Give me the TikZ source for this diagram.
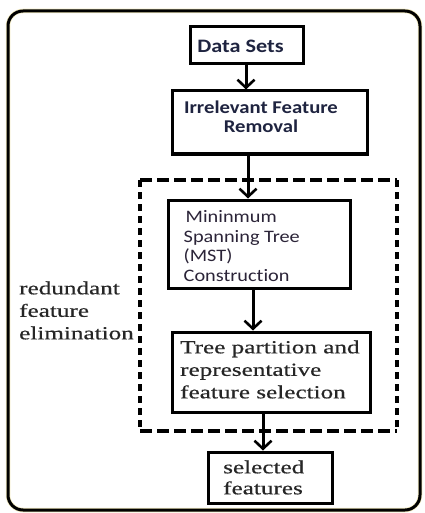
\documentclass[tikz,border=0pt]{standalone}
\usepackage{fontspec}
\setmainfont{Liberation Serif}
\newfontfamily\serifw[FakeStretch=1.36,FakeBold=0.5]{Liberation Serif}
\newfontfamily\carlds[FakeStretch=1.17]{Carlito}
\newfontfamily\carlb[FakeStretch=1.15]{Carlito}
\newfontfamily\carlw[FakeStretch=1.16,Ligatures=NoCommon]{Carlito}
\usetikzlibrary{arrows.meta}
\definecolor{navy}{HTML}{1F2440}
\definecolor{mstc}{HTML}{2B2438}
\definecolor{txtgray}{HTML}{262626}
\definecolor{halo}{HTML}{F3EBC0}
\tikzset{
  box/.style={draw=black, line width=3pt, fill=white, inner sep=0pt},
  txt/.style={inner sep=0pt, align=left},
  arr/.style={line width=3pt, -{Straight Barb[length=8pt,width=17pt,line width=2.6pt]}},
}
\begin{document}
\begin{tikzpicture}[x=1pt,y=-1pt]
\useasboundingbox (0,0) rectangle (424,513);
% outer frame
\draw[halo, line width=4.5pt, rounded corners=15pt] (8,11) rectangle (420,510);
\draw[black, line width=3pt, rounded corners=15pt] (8,11) rectangle (420,510);
% dashed region
\draw[halo, line width=4.5pt] (140,180) rectangle (397,431);
\draw[white, line width=4.5pt] (140,180) rectangle (397,431);
\draw[line width=3.2pt, dash pattern=on 12pt off 5pt] (140,180) -- (397,180);
\draw[line width=3.2pt, dash pattern=on 12pt off 5pt] (140,431) -- (397,431);
\draw[line width=3.2pt, dash pattern=on 7pt off 5pt] (140,180) -- (140,431);
\draw[line width=3.2pt, dash pattern=on 7pt off 5pt] (397,180) -- (397,431);
% boxes
\node[box, minimum width=113pt, minimum height=37pt] (ds) at (246.5,45.5) {};
\node[box, minimum width=195pt, minimum height=63pt] (irr) at (269.5,122.5) {};
\node[box, minimum width=182pt, minimum height=88pt] (mst) at (259,244) {};
\node[box, minimum width=198pt, minimum height=80pt] (tp) at (271,372) {};
\node[box, minimum width=124pt, minimum height=51pt] (sel) at (270,477.5) {};
% texts
\node[txt, text=navy, font=\carlds\bfseries\fontsize{19}{20}\selectfont] (dsT) at (240.5,46) {Data Sets};
\node[txt, align=center, text=navy, font=\carlb\bfseries\fontsize{18}{19.5}\selectfont] (irrT) at (261,117) {Irrelevant Feature\\Removal};
\node[txt, anchor=west, text=mstc, font=\carlw\fontsize{17.5}{19.5}\selectfont] (mstT) at (183.5,246) {\hspace*{2pt}Mininmum\\Spanning Tree\\(MST)\\Construction};
\node[txt, anchor=west, text=txtgray, font=\serifw\fontsize{18.5}{22.5}\selectfont] (tpT) at (180,369.5) {Tree partition and\\representative\\feature selection};
\node[txt, anchor=west, text=txtgray, font=\serifw\fontsize{18.5}{21}\selectfont] (selT) at (223,477.5) {selected\\features};
\node[txt, anchor=west, text=txtgray, font=\serifw\fontsize{18.5}{22.5}\selectfont] (lab) at (19,310.5) {redundant\\feature\\elimination};
% connectors
\coordinate (x1) at (246,0);
\coordinate (x2) at (248,0);
\coordinate (x3) at (253,0);
\coordinate (x4) at (263,0);
\draw[arr] (ds.south -| x1) -- (irr.north -| x1);
\draw[arr] (irr.south -| x2) -- (mst.north -| x2);
\draw[arr] (mst.south -| x3) -- (tp.north -| x3);
\draw[arr] (tp.south -| x4) -- (sel.north -| x4);
\end{tikzpicture}
\end{document}
